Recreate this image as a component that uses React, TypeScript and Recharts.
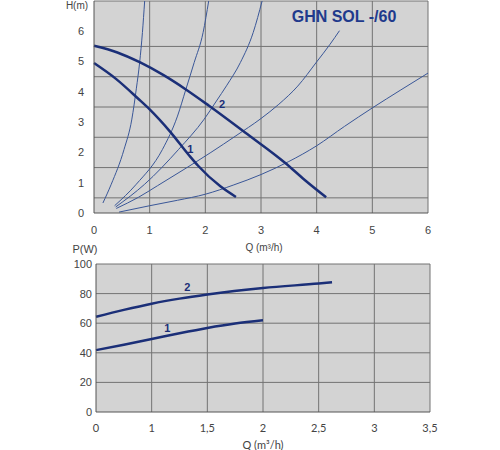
import React from "react";
import {
  LineChart,
  Line,
  XAxis,
  YAxis,
  CartesianGrid,
  ReferenceDot,
} from "recharts";

// H(Q) chart: pump curves 1 and 2
const pump1Q = [0, 0.4, 0.79, 1.0, 1.37, 1.71, 1.87, 2.27, 2.55];
const pump1H = [4.95, 4.42, 3.78, 3.42, 2.68, 1.9, 1.56, 0.88, 0.53];
const pump2Q = [0, 0.42, 0.83, 1.25, 1.65, 2.06, 2.72, 3.43, 3.78, 4.17];
const pump2H = [5.52, 5.3, 4.97, 4.55, 4.08, 3.55, 2.65, 1.66, 1.1, 0.52];

// system curves (thin lines)
const sysAQ = [0.16, 0.31, 0.54, 0.68, 0.76, 0.82, 0.87, 0.91];
const sysAH = [0.33, 0.95, 2.1, 3.1, 4.1, 4.97, 5.96, 7.0];
const sysBQ = [0.37, 0.76, 1.23, 1.5, 1.65, 1.8, 1.96, 2.06];
const sysBH = [0.24, 0.95, 2.1, 3.2, 4.08, 4.97, 5.96, 7.0];
const sysCQ = [0.39, 0.91, 1.52, 1.98, 2.2, 2.38, 2.63, 2.86, 3.02];
const sysCH = [0.2, 0.95, 2.1, 3.1, 3.7, 4.2, 4.97, 5.96, 7.0];
const sysDQ = [0.4, 0.8, 1.14, 1.6, 2.1, 2.55, 3.0, 3.32, 3.66, 4.0, 4.24, 4.41];
const sysDH = [0.15, 0.52, 0.9, 1.42, 2.0, 2.55, 3.12, 3.59, 4.19, 4.99, 5.57, 6.02];
const sysEQ = [0.45, 1.0, 1.5, 2.0, 2.5, 3.0, 3.5, 4.0, 4.5, 5.0, 5.5, 6.0];
const sysEH = [0.03, 0.24, 0.42, 0.62, 0.92, 1.27, 1.7, 2.22, 2.86, 3.47, 4.05, 4.62];

const hTicksX = [0, 1, 2, 3, 4, 5, 6];
const hTicksY = [0, 1, 2, 3, 4, 5, 6];
const hGridX = [1, 2, 3, 4, 5, 6];
const hGridY = [0.5, 1, 1.5, 2, 2.5, 3, 3.5, 4, 4.5, 5, 5.5, 6, 6.5, 7];

// P(Q) chart
const power1Q = [0.5, 0.75, 1.0, 1.25, 1.5, 1.75, 2.0];
const power1P = [41.8, 45.5, 49.3, 53.2, 56.8, 59.8, 62.0];
const power2Q = [0.5, 0.75, 1.0, 1.25, 1.5, 2.0, 2.5, 2.62];
const power2P = [64.3, 69.0, 73.2, 76.6, 79.4, 83.8, 86.8, 87.6];

const pTicksX = [0.5, 1, 1.5, 2, 2.5, 3, 3.5];
const pTickLabels = ["0", "1", "1,5", "2", "2,5", "3", "3,5"];
const pTicksY = [0, 20, 40, 60, 80, 100];
const pGridX = [1, 1.5, 2, 2.5, 3, 3.5];
const pGridY = [20, 40, 60, 80, 100];

const toPoints = (xs: number[], ys: number[]) =>
  xs.map((q, i) => ({ q, v: ys[i] }));

const THICK = "#1b2f78";
const THIN = "#3a5798";
const BG = "#d3d3d3";
const GRID = "#737373";

const textStyle = (x: number, y: number, extra: React.CSSProperties = {}) =>
  ({
    position: "absolute",
    left: x,
    top: y,
    transform: "translate(-50%, -50%)",
    whiteSpace: "nowrap",
    lineHeight: 1,
    ...extra,
  } as React.CSSProperties);

export default function App() {
  const sysCurves = [
    toPoints(sysAQ, sysAH),
    toPoints(sysBQ, sysBH),
    toPoints(sysCQ, sysCH),
    toPoints(sysDQ, sysDH),
    toPoints(sysEQ, sysEH),
  ];

  return (
    <div
      style={{
        position: "absolute",
        left: 0,
        top: 0,
        width: 500,
        height: 450,
        background: "#fff",
        fontFamily: "'Liberation Sans', Arial, sans-serif",
      }}
    >
      <div style={{ position: "absolute", left: 0, top: 0 }}>
        <LineChart
          width={500}
          height={255}
          margin={{ top: 1, right: 72, bottom: 0, left: 0 }}
        >
          <CartesianGrid
            fill={BG}
            fillOpacity={1}
            stroke={GRID}
            horizontalValues={hGridY}
            verticalValues={hGridX}
          />
          <XAxis
            type="number"
            dataKey="q"
            domain={[0, 6]}
            ticks={hTicksX}
            height={42}
            tickSize={0}
            tickMargin={13}
            axisLine={{ stroke: "#555" }}
            tick={{ fontSize: 11, fill: "#444", fontFamily: "Liberation Sans" }}
          />
          <YAxis
            type="number"
            dataKey="v"
            domain={[0, 7]}
            ticks={hTicksY}
            width={94}
            tickSize={0}
            tickMargin={10}
            allowDataOverflow
            axisLine={{ stroke: "#555" }}
            tick={{ fontSize: 11, fill: "#444", fontFamily: "Liberation Sans" }}
          />
          {sysCurves.map((pts, i) => (
            <Line
              key={`sys-${i}`}
              data={pts}
              dataKey="v"
              type="monotone"
              stroke={THIN}
              strokeWidth={1}
              dot={false}
              isAnimationActive={false}
            />
          ))}
          <Line
            data={toPoints(pump1Q, pump1H)}
            dataKey="v"
            type="monotone"
            stroke={THICK}
            strokeWidth={2.5}
            dot={false}
            isAnimationActive={false}
          />
          <Line
            data={toPoints(pump2Q, pump2H)}
            dataKey="v"
            type="monotone"
            stroke={THICK}
            strokeWidth={2.5}
            dot={false}
            isAnimationActive={false}
          />
          <ReferenceDot
            x={1.73}
            y={2.1}
            r={0}
            label={{ value: "1", position: "center", fill: THICK, fontSize: 11, fontWeight: "bold" }}
          />
          <ReferenceDot
            x={2.3}
            y={3.59}
            r={0}
            label={{ value: "2", position: "center", fill: THICK, fontSize: 11, fontWeight: "bold" }}
          />
        </LineChart>
      </div>

      <div style={{ position: "absolute", left: 0, top: 255 }}>
        <LineChart
          width={500}
          height={195}
          margin={{ top: 9, right: 70, bottom: 0, left: 0 }}
        >
          <CartesianGrid
            fill={BG}
            fillOpacity={1}
            stroke={GRID}
            horizontalValues={pGridY}
            verticalValues={pGridX}
          />
          <XAxis
            type="number"
            dataKey="q"
            domain={[0.5, 3.5]}
            ticks={pTicksX}
            tickFormatter={(v: number) => pTickLabels[pTicksX.indexOf(v)] ?? ""}
            height={38}
            tickSize={0}
            tickMargin={12}
            axisLine={{ stroke: "#555" }}
            tick={{ fontSize: 11, fill: "#444", fontFamily: "Lato" }}
          />
          <YAxis
            type="number"
            dataKey="v"
            domain={[0, 100]}
            ticks={pTicksY}
            width={96}
            tickSize={0}
            tickMargin={4}
            axisLine={{ stroke: "#555" }}
            tick={{ fontSize: 11, fill: "#444", fontFamily: "Liberation Sans" }}
          />
          <Line
            data={toPoints(power1Q, power1P)}
            dataKey="v"
            type="monotone"
            stroke={THICK}
            strokeWidth={2.5}
            dot={false}
            isAnimationActive={false}
          />
          <Line
            data={toPoints(power2Q, power2P)}
            dataKey="v"
            type="monotone"
            stroke={THICK}
            strokeWidth={2.5}
            dot={false}
            isAnimationActive={false}
          />
          <ReferenceDot
            x={1.14}
            y={56.5}
            r={0}
            label={{ value: "1", position: "center", fill: THICK, fontSize: 11, fontWeight: "bold" }}
          />
          <ReferenceDot
            x={1.32}
            y={84.2}
            r={0}
            label={{ value: "2", position: "center", fill: THICK, fontSize: 11, fontWeight: "bold" }}
          />
        </LineChart>
      </div>

      <div style={textStyle(344, 17, { fontSize: 16, fontWeight: "bold", color: "#1f3a8c" })}>
        GHN SOL -/60
      </div>
      <div style={textStyle(77, 6, { fontSize: 10, color: "#444" })}>H(m)</div>
      <div style={textStyle(264, 248, { fontSize: 10, color: "#444" })}>
        Q (m³/h)
      </div>
      <div style={textStyle(85, 249, { fontSize: 11, color: "#444" })}>P(W)</div>
      <div style={textStyle(263, 444, { fontSize: 11, color: "#444", fontFamily: "Lato" })}>
        Q (m³/h)
      </div>
    </div>
  );
}
